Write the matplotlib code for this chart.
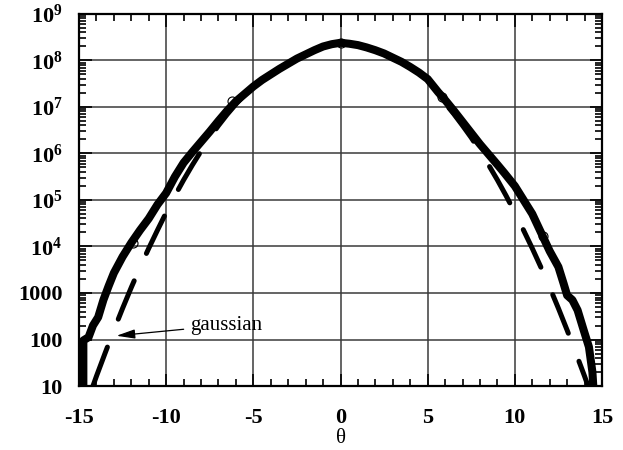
import numpy as np
import matplotlib
matplotlib.use("Agg")
import matplotlib.pyplot as plt
from matplotlib.ticker import FixedLocator, FixedFormatter, LogLocator, NullFormatter, MultipleLocator

plt.rcParams['font.family'] = ['Liberation Serif', 'DejaVu Serif']
plt.rcParams['mathtext.fontset'] = 'custom'
plt.rcParams['mathtext.rm'] = 'Liberation Serif:bold'
plt.rcParams['mathtext.it'] = 'Liberation Serif:italic'

# Solid curve (theta, log10 value)
solid_theta = [-14.75, -14.75, -14.45, -14.2, -13.9, -13.6, -13.3, -13.0, -12.5, -12.0,
               -11.5, -11.0, -10.5, -10.0, -9.5, -9.0, -8.5, -8.0, -7.5, -7.0,
               -6.5, -6.0, -5.0, -4.5, -4.0, -3.5, -3.0, -2.5, -2.0, -1.5,
               -1.0, -0.5, 0.0, 0.5, 1.0, 1.5, 2.0, 2.5,
               3.0, 3.5, 4.0, 4.5, 5.0, 5.6, 6.0, 6.5, 7.0, 7.5, 8.0, 8.5,
               9.0, 9.4, 10.0, 10.5, 11.0, 11.5, 12.0, 12.5, 12.8, 13.0,
               13.3, 13.6, 13.95, 14.25, 14.45, 14.5]
solid_log = [1.0, 1.98, 2.05, 2.3, 2.48, 2.85, 3.15, 3.43, 3.78, 4.08,
             4.35, 4.6, 4.9, 5.15, 5.5, 5.8, 6.03, 6.25, 6.47, 6.7,
             6.92, 7.12, 7.44, 7.58, 7.7, 7.82, 7.93, 8.04, 8.13, 8.22,
             8.3, 8.35, 8.38, 8.36, 8.33, 8.28, 8.22, 8.15,
             8.06, 7.97, 7.86, 7.74, 7.6, 7.32, 7.15, 6.92, 6.68, 6.44, 6.2, 5.98,
             5.76, 5.58, 5.3, 5.0, 4.7, 4.3, 3.9, 3.56, 3.2, 2.95,
             2.85, 2.63, 2.2, 1.84, 1.3, 1.0]

# Dashed "gaussian" curve (theta, log10 value)
gauss_theta = [-14.2, -14.0, -13.5, -13.0, -12.5, -12.0, -11.5, -11.0, -10.5, -10.0,
               -9.5, -9.0, -8.5, -8.0, -7.5, -7.0, -6.5, -6.0, -5.5, -5.0,
               -4.5, -4.0, -3.5, -3.0, -2.5, -2.0, -1.5, -1.0, -0.5, 0.0,
               0.5, 1.0, 1.5, 2.0, 2.5, 3.0, 3.5, 4.0, 4.5, 5.0,
               5.5, 6.0, 6.5, 7.0, 7.5, 8.0, 8.5, 9.0, 9.5, 10.0,
               10.5, 11.0, 11.5, 12.0, 12.5, 13.0, 13.5, 14.0, 14.2]
gauss_log = [1.00, 1.21, 1.71, 2.20, 2.67, 3.12, 3.55, 3.96, 4.35, 4.73,
             5.09, 5.43, 5.75, 6.05, 6.34, 6.60, 6.84, 7.06, 7.26, 7.42,
             7.57, 7.70, 7.82, 7.93, 8.04, 8.13, 8.22, 8.29, 8.35, 8.38,
             8.36, 8.32, 8.27, 8.21, 8.14, 8.05, 7.96, 7.85, 7.73, 7.58,
             7.30, 7.08, 6.85, 6.60, 6.34, 6.05, 5.75, 5.43, 5.09, 4.73,
             4.35, 3.96, 3.55, 3.12, 2.67, 2.20, 1.71, 1.21, 1.00]

marker_theta = [-11.9, -6.2, 0.0, 5.85, 11.6]
marker_log = [4.08, 7.12, 8.38, 7.22, 4.22]

ytick_vals = [1e1, 1e2, 1e3, 1e4, 1e5, 1e6, 1e7, 1e8, 1e9]
ytick_labels = ['10', '100', '1000', r'$10^4$', r'$10^5$', r'$10^6$', r'$10^7$', r'$10^8$', r'$10^9$']
xtick_vals = [-15, -10, -5, 0, 5, 10, 15]
xtick_labels = ['-15', '-10', '-5', '0', '5', '10', '15']

fig = plt.figure(figsize=(6.23, 4.50), dpi=100)
ax = fig.add_axes([0.1268, 0.1422, 0.8395, 0.8268])

ax.set_yscale('log')
ax.set_xlim(-15, 15)
ax.set_ylim(10, 1e9)

ax.grid(True, which='major', color='#3a3a3a', linewidth=1.1)
ax.set_axisbelow(True)

ax.plot(solid_theta, np.power(10.0, solid_log), color='black', linewidth=5.8,
        solid_capstyle='round', solid_joinstyle='round', zorder=3)
ln, = ax.plot(gauss_theta, np.power(10.0, gauss_log), color='black', linewidth=3.6,
              dash_capstyle='round', zorder=3)
ln.set_dashes([8.3, 6.0])
ax.plot(marker_theta, np.power(10.0, marker_log), linestyle='none', marker='o',
        markersize=6.5, markerfacecolor='none', markeredgecolor='black',
        markeredgewidth=0.8, zorder=4)

ax.yaxis.set_major_locator(FixedLocator(ytick_vals))
ax.yaxis.set_major_formatter(FixedFormatter(ytick_labels))
ax.yaxis.set_minor_locator(LogLocator(base=10, subs=np.arange(2, 10), numticks=20))
ax.yaxis.set_minor_formatter(NullFormatter())
ax.xaxis.set_major_locator(FixedLocator(xtick_vals))
ax.xaxis.set_major_formatter(FixedFormatter(xtick_labels))
ax.xaxis.set_minor_locator(MultipleLocator(1))

ax.tick_params(which='both', direction='in', top=True, right=True, labelsize=16, width=1.2)
ax.tick_params(which='major', length=9)
ax.tick_params(which='minor', length=5)
ax.tick_params(axis='x', which='major', pad=16)
ax.tick_params(axis='y', which='major', pad=12)
for lab in ax.get_xticklabels() + ax.get_yticklabels():
    lab.set_fontweight('bold')

for s in ax.spines.values():
    s.set_linewidth(1.6)

ax.set_xlabel('θ', fontsize=15)
ax.xaxis.set_label_coords(0.5, -0.115)

ax.annotate('gaussian', xy=(-12.85, 10**2.08), xytext=(-8.6, 10**2.31),
            fontsize=15, va='center', ha='left',
            arrowprops=dict(arrowstyle='-|>,head_length=0.8,head_width=0.2', color='black', lw=0.9,
                            mutation_scale=14, shrinkA=3, shrinkB=0))

fig.savefig('out.png', dpi=100)
